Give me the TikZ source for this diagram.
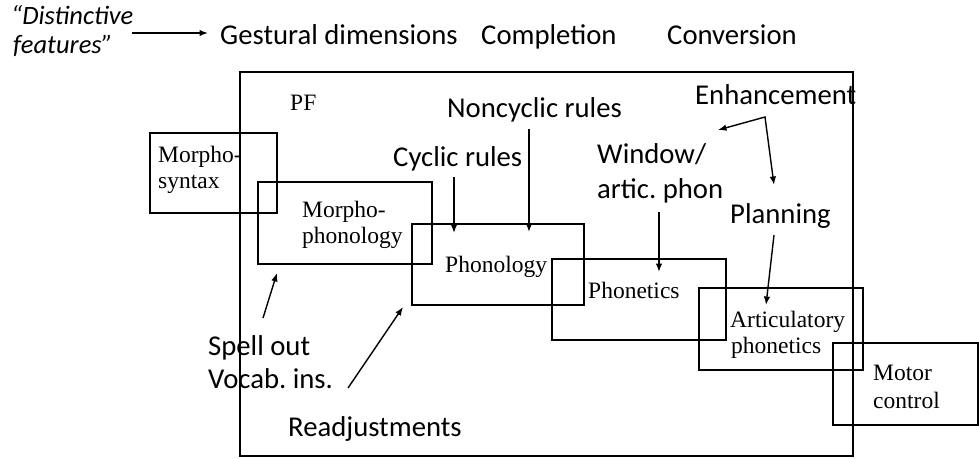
\documentclass[tikz,border=0pt]{standalone}
\usepackage{fontspec}
\setmainfont{Liberation Serif}
\newfontfamily\labelfont{Carlito}
\usetikzlibrary{arrows.meta}
\frenchspacing
\begin{document}
\begin{tikzpicture}[x=1pt,y=-1pt,
  box/.style={draw, line width=1.5pt, inner sep=0pt, outer sep=0pt},
  serif/.style={inner sep=0pt, anchor=base west, font=\fontsize{23.5}{26}\selectfont},
  sans/.style={inner sep=0pt, anchor=base west, font=\labelfont\fontsize{28.7}{31}\selectfont},
  quoted/.style={inner sep=0pt, anchor=base west, font=\labelfont\itshape\fontsize{26.5}{29}\selectfont},
  arr/.style={line width=1.4pt, -{Latex[length=8.5pt,width=6.5pt]}},
  arrboth/.style={line width=1.4pt, {Latex[length=8.5pt,width=6.5pt]}-{Latex[length=8.5pt,width=6.5pt]}}]
\useasboundingbox (0,0) rectangle (979,458);

% boxes (centre, width, height)
\node[box, minimum width=613, minimum height=384] (pf)     at (546.5,264) {};
\node[box, minimum width=127, minimum height=80]  (msyn)   at (213.5,173) {};
\node[box, minimum width=174, minimum height=82]  (mphon)  at (345,223) {};
\node[box, minimum width=172, minimum height=81]  (phonol) at (498,264.5) {};
\node[box, minimum width=174, minimum height=81]  (phonet) at (639,299.5) {};
\node[box, minimum width=164, minimum height=82]  (artic)  at (781,329) {};
\node[box, minimum width=145, minimum height=82]  (motor)  at (905.5,384) {};

% box labels
\node[serif] (pflab)   at (290,110) {PF};
\node[serif] (msyn1)   at (158,162) {Morpho-};
\node[serif] (msyn2)   at (158,188) {syntax};
\node[serif] (mphon1)  at (302,217) {Morpho-};
\node[serif] (mphon2)  at (302,243) {phonology};
\node[serif] (phonollab) at (445,272) {Phonology};
\node[serif] (phonetlab) at (588,298) {Phonetics};
\node[serif] (artic1)  at (730,327) {Articulatory};
\node[serif] (artic2)  at (731,353) {phonetics};
\node[serif] (motor1)  at (873,380) {Motor};
\node[serif] (motor2)  at (873,408) {control};

% header row
\node[quoted] (dist1) at (11,24) {“Distinctive};
\node[quoted] (dist2) at (13,53) {features”};
\node[sans] (gest) at (220,44) {Gestural dimensions};
\node[sans] (compl) at (481,44) {Completion};
\node[sans] (conv) at (667,44) {Conversion};

% process labels
\node[sans] (noncyc) at (447,117) {Noncyclic rules};
\node[sans] (cyc)    at (393,166) {Cyclic rules};
\node[sans] (enh)    at (695,104) {Enhancement};
\node[sans] (win1)   at (597,163) {Window/};
\node[sans] (win2)   at (597,198) {artic. phon};
\node[sans] (plan)   at (730,223) {Planning};
\node[sans] (spell1) at (208,355) {Spell out};
\node[sans] (spell2) at (208,388) {Vocab. ins.};
\node[sans] (readj)  at (288,436) {Readjustments};

% connector end points
\coordinate (distT)   at (132,33);   \coordinate (distH)   at (208,33);
\coordinate (cycT)    at (454,177);  \coordinate (cycH)    at (454,233);
\coordinate (noncycT) at (529,129);  \coordinate (noncycH) at (529,232);
\coordinate (winT)    at (659,212);  \coordinate (winH)    at (659,272);
\coordinate (enhL)    at (718,130);  \coordinate (enhJ)    at (765,117);
\coordinate (enhD)    at (774,185);
\coordinate (planT)   at (774,235);  \coordinate (planH)   at (766,305);
\coordinate (spellT)  at (263,318);  \coordinate (spellH)  at (277,273);
\coordinate (readjT)  at (348,388);  \coordinate (readjH)  at (403,307);

% connectors
\draw[arr] (distT) -- (distH);
\draw[arr] (cycT) -- (cycH);
\draw[arr] (noncycT) -- (noncycH);
\draw[arr] (winT) -- (winH);
\draw[arrboth] (enhL) -- (enhJ) -- (enhD);
\draw[arr] (planT) -- (planH);
\draw[arr] (spellT) -- (spellH);
\draw[arr] (readjT) -- (readjH);
\end{tikzpicture}
\end{document}
